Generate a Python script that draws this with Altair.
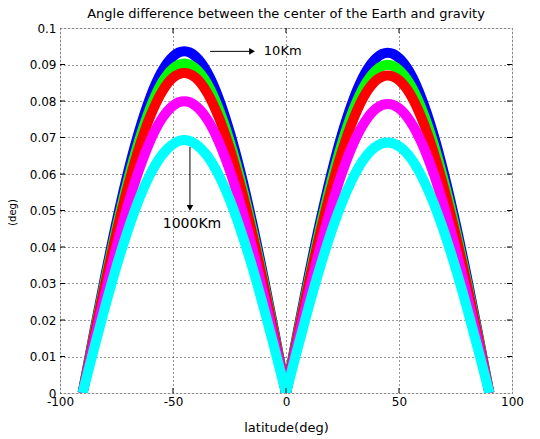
import altair as alt
import pandas as pd

# latitude samples (deg)
lats = list(range(-90, 95, 5))

# angle difference (deg), one list per altitude
blue = [0, .0163, .0320, .0468, .0602, .0717, .0811, .0880, .0922, .0936, .0922, .0880, .0811, .0717, .0602, .0468, .0320, .0163, 0,
        .0162, .0319, .0466, .0599, .0714, .0807, .0876, .0918, .0932, .0918, .0876, .0807, .0714, .0599, .0466, .0319, .0162, 0]
green = [0, .0157, .0309, .0452, .0581, .0692, .0782, .0849, .0889, .0903, .0889, .0849, .0782, .0692, .0581, .0452, .0309, .0157, 0,
         .0156, .0307, .0450, .0578, .0689, .0779, .0845, .0885, .0899, .0885, .0845, .0779, .0689, .0578, .0450, .0307, .0156, 0]
red = [0, .0152, .0300, .0439, .0564, .0672, .0759, .0824, .0864, .0877, .0864, .0824, .0759, .0672, .0564, .0439, .0300, .0152, 0,
       .0151, .0298, .0435, .0559, .0666, .0753, .0818, .0857, .0870, .0857, .0818, .0753, .0666, .0559, .0435, .0298, .0151, 0]
magenta = [0, .0139, .0273, .0400, .0514, .0612, .0692, .0751, .0787, .0799, .0787, .0751, .0692, .0612, .0514, .0400, .0273, .0139, 0,
           .0138, .0271, .0396, .0509, .0607, .0686, .0744, .0780, .0792, .0780, .0744, .0686, .0607, .0509, .0396, .0271, .0138, 0]
cyan = [0, .0120, .0237, .0347, .0445, .0531, .0600, .0651, .0682, .0693, .0682, .0651, .0600, .0531, .0445, .0347, .0237, .0120, 0,
        .0119, .0235, .0343, .0441, .0525, .0594, .0645, .0676, .0686, .0676, .0645, .0594, .0525, .0441, .0343, .0235, .0119, 0]

series = [("blue", blue, "#0000FF"), ("green", green, "#00FF00"), ("red", red, "#FF0000"),
          ("magenta", magenta, "#FF00FF"), ("cyan", cyan, "#00FFFF")]

x_ticks = [-100, -50, 0, 50, 100]
y_ticks = [0, 0.01, 0.02, 0.03, 0.04, 0.05, 0.06, 0.07, 0.08, 0.09, 0.1]

title_text = "Angle difference between the center of the Earth and gravity"
x_title = "latitude(deg)"
y_title = "(deg)"

W, H = 452, 365
FONT = "DejaVu Sans"

x_enc = alt.X("lat:Q", scale=alt.Scale(domain=[-100, 100], nice=False, zero=False),
              axis=alt.Axis(values=x_ticks, labelExpr="'' + datum.value", grid=True, ticks=False,
                            domain=False, gridDash=[1, 3], gridColor="#333", gridWidth=1,
                            labelFlush=False, labelOverlap=False,
                            labelFont=FONT, labelFontSize=12, labelColor="#000", labelPadding=3,
                            title=x_title, titleFont=FONT, titleFontSize=13, titleFontWeight="normal",
                            titleColor="#000", titleY=34, titleBaseline="middle"))
y_enc = alt.Y("val:Q", scale=alt.Scale(domain=[0, 0.1], nice=False),
              axis=alt.Axis(values=y_ticks, labelExpr="'' + datum.value", grid=True, ticks=False,
                            domain=False, gridDash=[1, 3], gridColor="#333", gridWidth=1,
                            labelFlush=False, labelOverlap=False,
                            labelFont=FONT, labelFontSize=12, labelColor="#000", labelPadding=4,
                            title=y_title, titleFont=FONT, titleFontSize=10, titleFontWeight="normal",
                            titleColor="#000", titleX=-48, titleY=184, titleAngle=-90,
                            titleBaseline="middle", titleAlign="center"))

layers = []
for name, vals, col in series:
    rows = []
    for la, v in zip(lats, vals):
        if la <= 0:
            rows.append({"lat": la, "val": v, "hemi": "S"})
        if la >= 0:
            rows.append({"lat": la, "val": v, "hemi": "N"})
    df = pd.DataFrame(rows)
    layers.append(
        alt.Chart(df).mark_line(color=col, strokeWidth=10, strokeCap="butt", clip=True,
                                interpolate="monotone")
        .encode(x=x_enc, y=y_enc, detail="hemi:N")
    )

# inside tick marks (MATLAB style box ticks)
xt = pd.DataFrame({"lat": x_ticks[1:-1]})
yt = pd.DataFrame({"val": y_ticks[1:-1]})
tick_layers = [
    alt.Chart(xt).mark_rule(color="#000").encode(x=x_enc, y=alt.value(H), y2=alt.value(H - 5)),
    alt.Chart(xt).mark_rule(color="#000").encode(x=x_enc, y=alt.value(0), y2=alt.value(5)),
    alt.Chart(yt).mark_rule(color="#000").encode(y=y_enc, x=alt.value(0), x2=alt.value(5)),
    alt.Chart(yt).mark_rule(color="#000").encode(y=y_enc, x=alt.value(W), x2=alt.value(W - 5)),
]

# annotations
h_arrow = pd.DataFrame({"lat": [-33.6], "lat2": [-15.0], "val": [0.0936]})
h_head = pd.DataFrame({"lat": [-13.7], "val": [0.0936]})
h_text = pd.DataFrame({"lat": [-9.8], "val": [0.0936], "label": ["10Km"]})
v_arrow = pd.DataFrame({"lat": [-42.5], "val": [0.0674], "val2": [0.0508]})
v_head = pd.DataFrame({"lat": [-42.5], "val": [0.0499]})
v_text = pd.DataFrame({"lat": [-41.6], "val": [0.0463], "label": ["1000Km"]})

ann = [
    alt.Chart(h_arrow).mark_rule(color="#000", strokeWidth=1).encode(x=x_enc, x2="lat2:Q", y=y_enc),
    alt.Chart(h_head).mark_point(shape="triangle-right", filled=True, color="#000", opacity=1,
                                 size=45, xOffset=-3).encode(x=x_enc, y=y_enc),
    alt.Chart(h_text).mark_text(align="left", baseline="middle", font=FONT, fontSize=13,
                                color="#000").encode(x=x_enc, y=y_enc, text="label:N"),
    alt.Chart(v_arrow).mark_rule(color="#000", strokeWidth=1).encode(x=x_enc, y=y_enc, y2="val2:Q"),
    alt.Chart(v_head).mark_point(shape="triangle-down", filled=True, color="#000", opacity=1,
                                 size=45, yOffset=-3).encode(x=x_enc, y=y_enc),
    alt.Chart(v_text).mark_text(align="center", baseline="middle", font=FONT, fontSize=14,
                                color="#000").encode(x=x_enc, y=y_enc, text="label:N"),
]

chart = alt.layer(*layers, *tick_layers, *ann).properties(
    width=W, height=H,
    title=alt.TitleParams(title_text, font=FONT, fontSize=13, fontWeight="normal",
                          color="#000", anchor="middle", offset=1),
    autosize=alt.AutoSizeParams(type="none"),
    padding={"left": 52, "top": 20, "right": 20, "bottom": 46},
).configure_view(stroke="#000", strokeWidth=1).configure(background="#fff")

chart.save("out.html", embed_options={"renderer": "svg", "actions": False})
